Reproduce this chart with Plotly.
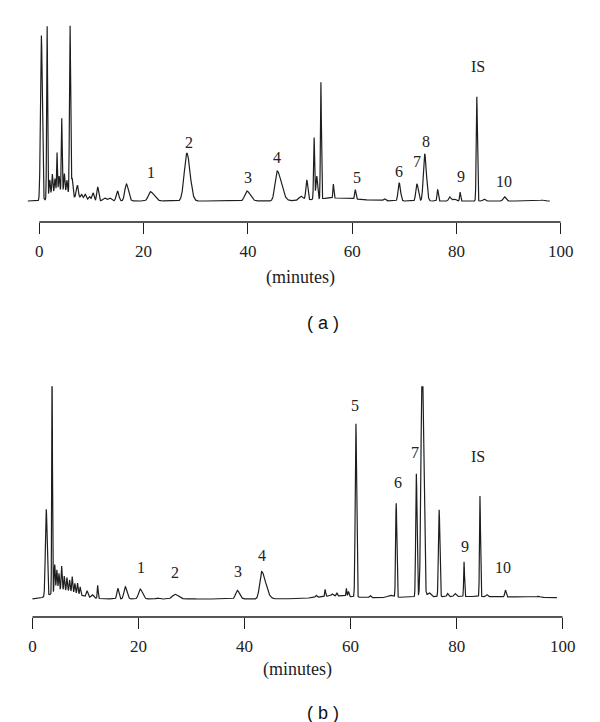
import numpy as np
import plotly.graph_objects as go

# ---------------- Panel (a): peak table ----------------
A_TIME   = [0.4, 1.5, 2.0, 2.5, 3.0, 3.4, 3.8, 4.3, 4.8, 5.3, 5.9, 6.3, 4.0,
            7.3, 8.1, 8.8, 9.6, 10.3, 11.2, 12.5, 13.5, 15.0, 16.7,
            21.3, 28.3, 39.8, 45.6, 50.2, 51.3, 52.7, 53.2, 54.0, 56.4, 57.0,
            60.6, 66.2, 69.0, 72.4, 73.9, 76.4, 78.7, 79.5, 80.7, 83.9, 85.3,
            89.2, 96.4]
A_HEIGHT = [165, 173, 18, 22, 16, 41, 17, 75, 20, 14, 170, 18, 8,
            13, 5, 6, 4, 8, 14, 3, 3, 10, 17,
            9.3, 47.7, 10, 30, 4, 20, 61.7, 23, 116.7, 14, 3,
            9.3, 2, 18.3, 17.3, 47.3, 11.7, 4, 2, 9, 104.3, 2,
            4.3, 1]
A_WIDTH  = [0.17, 0.09, 0.12, 0.12, 0.12, 0.08, 0.12, 0.09, 0.12, 0.12, 0.11, 0.12, 1.5,
            0.2, 0.2, 0.2, 0.2, 0.2, 0.18, 0.3, 0.3, 0.25, 0.3,
            0.4, 0.5, 0.4, 0.4, 0.4, 0.18, 0.1, 0.15, 0.09, 0.09, 4.0,
            0.12, 0.2, 0.2, 0.2, 0.25, 0.12, 0.2, 0.3, 0.1, 0.11, 0.2,
            0.25, 0.3]
A_TAIL   = [1, 1, 1, 1, 1, 1, 1, 1, 1, 1, 1, 1, 1.5,
            1, 1, 1, 1, 1, 1, 1, 1, 1, 1.3,
            1.8, 1.2, 1.6, 2.0, 1, 1, 1, 1, 1, 1, 1,
            1, 1, 1.3, 1.3, 1.3, 1, 1, 1, 1, 1, 1,
            1, 1]
A_RANGE = (-2.2, 97.9)
A_LABELS  = ["1", "2", "3", "4", "5", "6", "7", "8", "9", "IS", "10"]
A_LABEL_T = [21.4, 28.7, 40.0, 45.6, 60.9, 69.0, 72.4, 74.2, 80.8, 84.1, 89.1]
A_LABEL_H = [28.7, 58, 23, 43, 23.7, 29, 39, 59.7, 24.7, 134.7, 19.7]

# ---------------- Panel (b): peak table ----------------
B_TIME   = [2.6, 3.7, 4.2, 4.6, 5.0, 5.5, 6.0, 6.5, 7.0, 7.5, 8.0, 8.5, 9.0, 5.5,
            10.3, 11.3, 12.3, 16.1, 17.5, 20.3, 23.6, 26.9, 30.1, 38.6, 43.2,
            53.5, 55.2, 56.5, 57.4, 59.2, 59.6, 57.0, 61.0, 63.7, 67.5,
            68.6, 72.4, 73.5, 74.8, 76.7, 78.3, 79.7, 81.4, 84.4, 85.7, 89.2, 95.4, 82.0]
B_HEIGHT = [87, 230, 28, 22, 18, 25, 15, 14, 12, 16, 10, 11, 8, 8,
            6, 3, 13, 10.7, 12.3, 10, 1, 4.7, 0.6, 8.7, 27.3,
            2, 7, 2, 3, 8, 5, 2.5, 173.4, 2, 2,
            94, 123.4, 240, 4, 87, 3, 3, 34.7, 100.7, 2, 6.7, 1, 2.5]
B_WIDTH  = [0.16, 0.07, 0.1, 0.1, 0.1, 0.1, 0.1, 0.1, 0.1, 0.1, 0.1, 0.1, 0.1, 2.0,
            0.15, 0.2, 0.08, 0.18, 0.25, 0.3, 0.3, 0.5, 0.4, 0.3, 0.35,
            0.15, 0.08, 0.2, 0.1, 0.08, 0.1, 3.0, 0.13, 0.15, 0.5,
            0.11, 0.12, 0.22, 0.3, 0.13, 0.15, 0.2, 0.08, 0.09, 0.15, 0.13, 0.3, 15.0]
B_TAIL   = [1, 1, 1, 1, 1, 1, 1, 1, 1, 1, 1, 1, 1, 1.5,
            1, 1, 1, 1, 1.3, 1.5, 1, 1.3, 1, 1.5, 2.2,
            1, 1, 1, 1, 1, 1, 1, 1, 1, 1,
            1, 1, 1.2, 1, 1, 1, 1, 1, 1, 1, 1, 1, 1]
B_RANGE = (0.0, 98.9)
B_LABELS  = ["1", "2", "3", "4", "5", "6", "7", "8", "9", "IS", "10"]
B_LABEL_T = [20.5, 26.9, 38.7, 43.2, 60.9, 68.9, 72.1, 73.8, 81.6, 84.1, 88.7]
B_LABEL_H = [31.7, 27, 27.7, 43.7, 193.7, 117, 147, 230.3, 52.7, 142.7, 32]

X_TICKS = [0, 20, 40, 60, 80, 100]


def chromatogram(trange, times, heights, widths, tails):
    t = np.linspace(trange[0], trange[1], 6001)
    y = np.zeros_like(t)
    for c, h, w, k in zip(times, heights, widths, tails):
        s = np.where(t < c, w, w * k)
        y += h * np.exp(-0.5 * ((t - c) / s) ** 2)
    return t, y


W, H = 600, 722
LINE = "#1e1e1e"
SERIF = "Liberation Serif, Times New Roman, serif"
SANS = "Liberation Sans, Arial, sans-serif"

fig = go.Figure()
ta, ya = chromatogram(A_RANGE, A_TIME, A_HEIGHT, A_WIDTH, A_TAIL)
tb, yb = chromatogram(B_RANGE, B_TIME, B_HEIGHT, B_WIDTH, B_TAIL)
fig.add_trace(go.Scatter(x=ta, y=ya, mode="lines", line=dict(color=LINE, width=1.2),
                         xaxis="x", yaxis="y", showlegend=False, hoverinfo="skip"))
fig.add_trace(go.Scatter(x=tb, y=yb, mode="lines", line=dict(color=LINE, width=1.2),
                         xaxis="x2", yaxis="y2", showlegend=False, hoverinfo="skip"))

xcommon = dict(range=[-3, 100], showline=False, showgrid=False, zeroline=False,
               ticks="outside", ticklen=11, tickwidth=1.3, tickcolor=LINE,
               tickvals=X_TICKS, ticktext=[str(v) for v in X_TICKS],
               tickfont=dict(family=SERIF, size=17, color="#222"),
               ticklabelstandoff=3, fixedrange=True)
ycommon = dict(visible=False, showgrid=False, zeroline=False, fixedrange=True)

fig.update_layout(
    width=W, height=H, margin=dict(l=0, r=0, t=0, b=0),
    paper_bgcolor="white", plot_bgcolor="white",
    xaxis=dict(domain=[16 / W, 565 / W], anchor="y", **xcommon),
    yaxis=dict(domain=[(H - 214) / H, (H - 10) / H], range=[-21, 183], anchor="x", **ycommon),
    xaxis2=dict(domain=[8.74 / W, 567 / W], anchor="y2", **xcommon),
    yaxis2=dict(domain=[(H - 609) / H, (H - 378.3) / H], range=[-18, 212.7], anchor="x2", **ycommon),
)

# axis base lines from 0 to 100
for xr, yr in (("x", "y domain"), ("x2", "y2 domain")):
    fig.add_shape(type="line", xref=xr, yref=yr, x0=0, x1=100, y0=0, y1=0,
                  line=dict(color=LINE, width=1.3))

# peak labels
for xr, yr, labs, lt, lh in (("x", "y", A_LABELS, A_LABEL_T, A_LABEL_H),
                             ("x2", "y2", B_LABELS, B_LABEL_T, B_LABEL_H)):
    for txt, tx, hy in zip(labs, lt, lh):
        fig.add_annotation(x=tx, y=hy, xref=xr, yref=yr, text=txt, showarrow=False,
                           xanchor="center", yanchor="middle",
                           font=dict(family=SERIF, size=16, color="#222"))

# axis titles and panel captions
fig.add_annotation(x=50, y=(H - 269.3) / H, xref="x", yref="paper", text="(minutes)",
                   showarrow=False, xanchor="center", yanchor="middle",
                   font=dict(family=SERIF, size=18, color="#222"))
fig.add_annotation(x=50, y=(H - 661.7) / H, xref="x2", yref="paper", text="(minutes)",
                   showarrow=False, xanchor="center", yanchor="middle",
                   font=dict(family=SERIF, size=18, color="#222"))
fig.add_annotation(x=322 / W, y=(H - 315) / H, xref="paper", yref="paper", text="( a )",
                   showarrow=False, xanchor="center", yanchor="middle",
                   font=dict(family=SANS, size=18, color="#111"))
fig.add_annotation(x=322 / W, y=(H - 705) / H, xref="paper", yref="paper", text="( b )",
                   showarrow=False, xanchor="center", yanchor="middle",
                   font=dict(family=SANS, size=18, color="#111"))

fig.write_html("out.html", config={"displayModeBar": False})
